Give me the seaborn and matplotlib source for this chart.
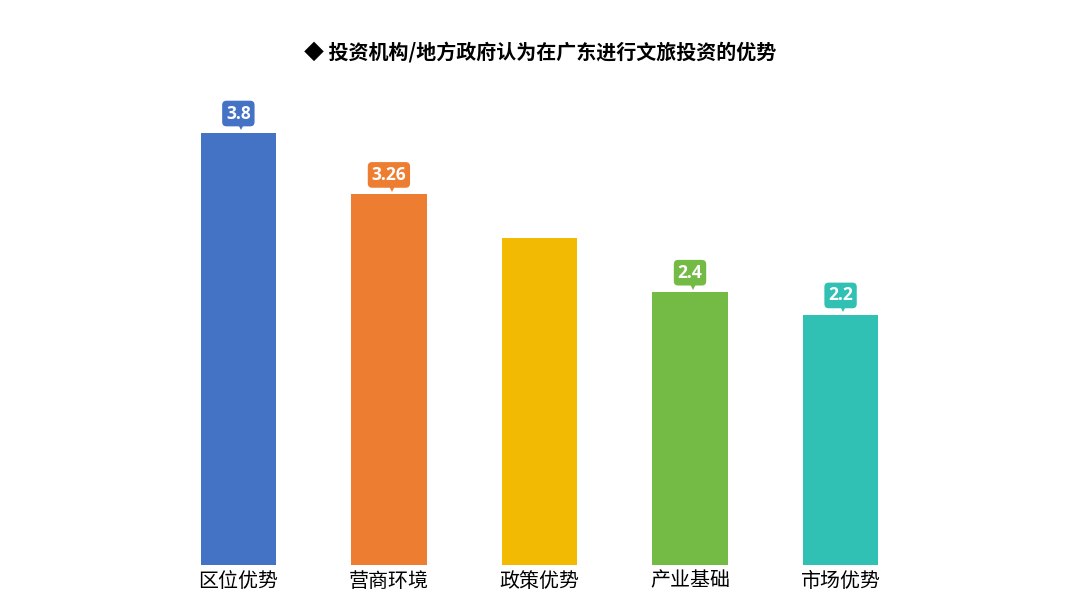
import numpy as np
import pandas as pd
import matplotlib
matplotlib.use("Agg")
import matplotlib.pyplot as plt
import matplotlib.transforms as mtransforms
import seaborn as sns

# data
categories = ["区位优势", "营商环境", "政策优势", "产业基础", "市场优势"]
scores = [3.8, 3.26, 2.88, 2.4, 2.2]
# the label over 政策优势 is not visible in the reference
shown_labels = ["3.8", "3.26", None, "2.4", "2.2"]
colors = ["#4472C4", "#ED7D31", "#F2BA02", "#74BB45", "#30C0B4"]

sns.set_theme(style="white")
plt.rcParams['font.family'] = ['Noto Sans CJK SC', 'DejaVu Sans']

df = pd.DataFrame({"category": categories, "score": scores})

fig = plt.figure(figsize=(10.8, 6.08), dpi=100)
ax = fig.add_axes([0.151, 0.0707, 0.697, 0.748])

sns.barplot(data=df, x="category", y="score", hue="category",
            palette=colors, width=0.5, legend=False, ax=ax,
            saturation=1, edgecolor="none")

ax.set_xlim(-0.5, 4.5)
ax.set_ylim(0, 4)
for s in ax.spines.values():
    s.set_visible(False)
ax.set_yticks([])
ax.set_xlabel("")
ax.set_ylabel("")
ax.tick_params(axis="x", length=0, pad=4, labelsize=14.4, labelcolor="#000000")

# value callouts above the bars
for i, (val, lab, col) in enumerate(zip(scores, shown_labels, colors)):
    if lab is None:
        continue
    ax.annotate(lab, xy=(i, val), xytext=(0, 14), textcoords="offset points",
                ha="center", va="center", color="white", fontsize=12.5,
                fontweight="bold", family=["Open Sans", "DejaVu Sans"],
                bbox=dict(boxstyle="round,pad=0.22,rounding_size=0.25",
                          fc=col, ec="none"))
    tr = mtransforms.offset_copy(ax.transData, fig=fig, x=2, y=4.0, units="points")
    ax.plot([i], [val], marker="v", markersize=5, color=col,
            markeredgewidth=0, transform=tr, clip_on=False)

fig.text(0.5, 0.914, "◆ 投资机构/地方政府认为在广东进行文旅投资的优势",
         ha="center", va="center", fontsize=14.4, fontweight="bold",
         color="#000000")

fig.savefig("out.png", dpi=100, facecolor="white")
